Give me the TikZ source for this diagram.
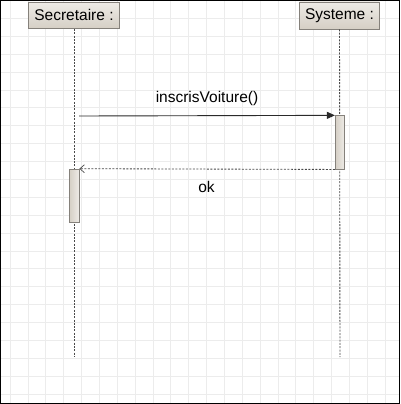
\documentclass[tikz,border=0pt]{standalone}
\usepackage{fontspec}
\setmainfont{Liberation Sans}
\usetikzlibrary{arrows.meta}
\definecolor{gridc}{HTML}{ECECEC}
\definecolor{boxtop}{HTML}{EEEBE6}
\definecolor{boxbot}{HTML}{D5CFC5}
\definecolor{boxline}{HTML}{85817B}
\definecolor{lifec}{HTML}{4A4A4A}
\definecolor{msgc}{HTML}{2A2A2A}
\tikzset{
  objbox/.style={draw=boxline, line width=0.8pt, top color=boxtop, bottom color=boxbot,
    inner sep=0pt, font=\fontsize{15.5}{18}\selectfont, text=black},
  actbar/.style={draw=boxline, line width=0.8pt, left color=boxbot, right color=boxtop,
    inner sep=0pt},
  lifeline/.style={draw=lifec, line width=0.9pt, dash pattern=on 2pt off 1.3pt},
  callmsg/.style={draw=msgc, line width=0.9pt, -{Triangle[length=8pt,width=7pt]}},
  retmsg/.style={draw=lifec, line width=0.85pt, dash pattern=on 2pt off 1.5pt,
    -{Straight Barb[length=4.5pt,width=8pt,line width=0.7pt]}},
  msglabel/.style={font=\fontsize{15.5}{18}\selectfont, text=black, inner sep=0pt, anchor=base}
}
\begin{document}
\begin{tikzpicture}[x=1pt,y=-1pt]
\useasboundingbox (0,0) rectangle (400,404);
\fill[white] (0,0) rectangle (400,404);
% grid
\foreach \k in {0,...,21} {
  \draw[gridc, line width=0.7pt] ({10+17.86*\k},0) -- ({10+17.86*\k},404);
}
\foreach \k in {-1,0,...,21} {
  \draw[gridc, line width=0.7pt] (0,{18.3+17.89*\k}) -- (400,{18.3+17.89*\k});
}
% objects
\node[objbox, minimum width=90.6pt, minimum height=26.7pt] (sec) at (74,15.4) {Secretaire :};
\node[objbox, minimum width=80pt, minimum height=27pt] (sys) at (339.5,15.5) {Systeme :};
\coordinate (secend) at (74,357);
\coordinate (sysend) at (340,357);
\draw[lifeline] (sec.south) -- (secend);
\draw[lifeline] (sys.south) -- (sysend);
% activations
\node[actbar, minimum width=9pt, minimum height=53.3pt] (sysact) at (339.8,142.4) {};
\node[actbar, minimum width=9.6pt, minimum height=53pt] (secact) at (74.2,195.6) {};
% messages
\coordinate (m1s) at (79,116);
\draw[callmsg] (m1s) -- (sysact.north west);
\draw[retmsg] (sysact.south west) -- (secact.north east);
\node[msglabel] (l1) at (207,102) {inscrisVoiture()};
\node[msglabel] (l2) at (206.5,192.5) {ok};
% frame
\draw[black, line width=1.4pt] (0.7,0.7) rectangle (399.3,403.3);
\end{tikzpicture}
\end{document}
